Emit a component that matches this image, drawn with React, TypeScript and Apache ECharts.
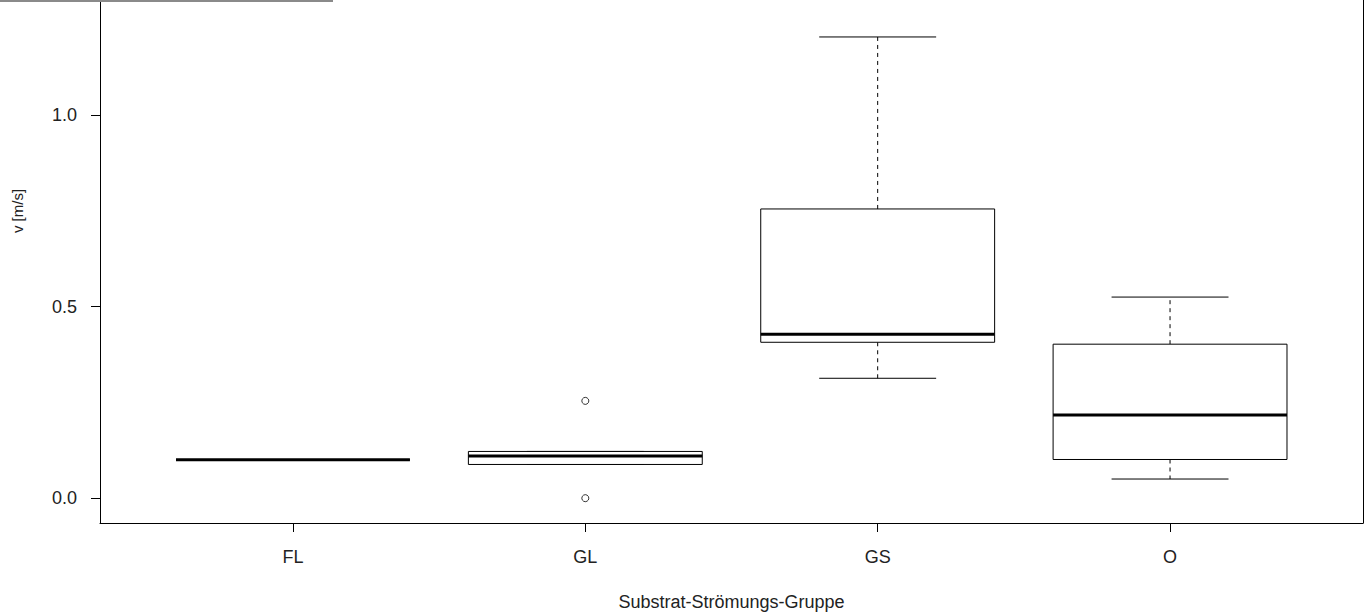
import React, { useEffect, useRef } from "react";
import * as echarts from "echarts";

const categories = ["FL", "GL", "GS", "O"];
const whiskerLow = [0.1, 0.088, 0.313, 0.05];
const quartile1 = [0.1, 0.088, 0.407, 0.101];
const medians = [0.1, 0.11, 0.428, 0.217];
const quartile3 = [0.1, 0.122, 0.755, 0.402];
const whiskerHigh = [0.1, 0.122, 1.204, 0.525];
const outliers: [number, number][] = [
  [2, 0.254],
  [2, 0.0],
];
const yTicks = [0, 0.5, 1.0];
const yTickLabels = ["0.0", "0.5", "1.0"];

const FONT = "'Liberation Sans', Arial, sans-serif";

export default function App() {
  const ref = useRef<HTMLDivElement>(null);
  useEffect(() => {
    document.body.style.margin = "0";
    const chart = echarts.init(ref.current!, null, { renderer: "svg" });
    const boxData = categories.map((_, i) => [
      i + 1,
      whiskerLow[i],
      quartile1[i],
      medians[i],
      quartile3[i],
      whiskerHigh[i],
    ]);
    chart.setOption({
      animation: false,
      backgroundColor: "#ffffff",
      grid: { left: 100, right: 2, top: 0, bottom: 89, show: false },
      xAxis: {
        type: "value",
        min: 0.34,
        max: 4.66,
        splitLine: { show: false },
        axisLine: { show: true, onZero: false, lineStyle: { color: "#000", width: 1 } },
        axisTick: { show: true, length: 9, customValues: [1, 2, 3, 4], lineStyle: { color: "#000" } },
        axisLabel: {
          show: true,
          customValues: [1, 2, 3, 4],
          formatter: (v: number) => categories[Math.round(v) - 1] ?? "",
          margin: 25,
          fontSize: 18,
          color: "#222",
          fontFamily: FONT,
        },
        name: "Substrat-Strömungs-Gruppe",
        nameLocation: "middle",
        nameGap: 70,
        nameTextStyle: { fontSize: 18, color: "#222", fontFamily: FONT },
      },
      yAxis: [
        {
          type: "value",
          min: -0.0648,
          max: 1.3005,
          splitLine: { show: false },
          axisLine: { show: true, onZero: false, lineStyle: { color: "#000", width: 1 } },
          axisTick: { show: true, length: 9, customValues: yTicks, lineStyle: { color: "#000" } },
          axisLabel: {
            show: true,
            customValues: yTicks,
            formatter: (v: number) => {
              const i = yTicks.findIndex((t) => Math.abs(t - v) < 1e-9);
              return i >= 0 ? yTickLabels[i] : "";
            },
            margin: 23,
            fontSize: 18,
            color: "#222",
            fontFamily: FONT,
          },
        },
        {
          type: "value",
          position: "right",
          min: -0.0648,
          max: 1.3005,
          splitLine: { show: false },
          axisLine: { show: true, onZero: false, lineStyle: { color: "#000", width: 1 } },
          axisTick: { show: false },
          axisLabel: { show: false },
        },
      ],
      graphic: [
        {
          type: "line",
          shape: { x1: 0, y1: 1, x2: 333, y2: 1 },
          style: { stroke: "#8a8a8a", lineWidth: 2 },
          z: 100,
        },
        {
          type: "text",
          x: 17,
          y: 211,
          rotation: Math.PI / 2,
          style: {
            text: "v [m/s]",
            fontSize: 15,
            fill: "#222",
            fontFamily: FONT,
            align: "center",
            verticalAlign: "middle",
          },
        },
      ],
      series: [
        {
          type: "custom",
          data: boxData,
          encode: { x: 0, y: [1, 2, 3, 4, 5] },
          renderItem: (params: any, api: any) => {
            const x = api.value(0);
            const lo = api.value(1);
            const q1 = api.value(2);
            const md = api.value(3);
            const q3 = api.value(4);
            const hi = api.value(5);
            const half = api.size([0.4, 0])[0];
            const capHalf = half / 2;
            const pLo = api.coord([x, lo]);
            const pQ1 = api.coord([x, q1]);
            const pMd = api.coord([x, md]);
            const pQ3 = api.coord([x, q3]);
            const pHi = api.coord([x, hi]);
            const cx = pLo[0];
            const stroke = { stroke: "#000", lineWidth: 1, fill: null };
            const dashed = { stroke: "#000", lineWidth: 1, lineDash: [4, 4], fill: null };
            return {
              type: "group",
              children: [
                { type: "line", shape: { x1: cx, y1: pQ3[1], x2: cx, y2: pHi[1] }, style: dashed },
                { type: "line", shape: { x1: cx, y1: pQ1[1], x2: cx, y2: pLo[1] }, style: dashed },
                { type: "line", shape: { x1: cx - capHalf, y1: pHi[1], x2: cx + capHalf, y2: pHi[1] }, style: stroke },
                { type: "line", shape: { x1: cx - capHalf, y1: pLo[1], x2: cx + capHalf, y2: pLo[1] }, style: stroke },
                {
                  type: "rect",
                  shape: { x: cx - half, y: pQ3[1], width: half * 2, height: pQ1[1] - pQ3[1] },
                  style: { stroke: "#000", lineWidth: 1, fill: "#fff" },
                },
                { type: "line", shape: { x1: cx - half, y1: pMd[1], x2: cx + half, y2: pMd[1] }, style: { stroke: "#000", lineWidth: 3 } },
              ],
            };
          },
        },
        {
          type: "scatter",
          data: outliers,
          symbol: "circle",
          symbolSize: 7,
          itemStyle: { color: "#fff", borderColor: "#000", borderWidth: 1 },
        },
      ],
    });
    return () => chart.dispose();
  }, []);
  return <div ref={ref} style={{ width: 1365, height: 616 }} />;
}
